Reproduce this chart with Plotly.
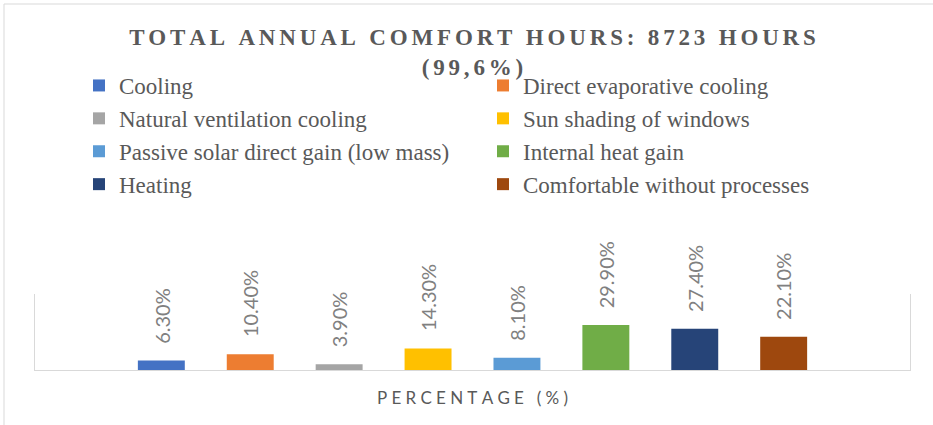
import plotly.graph_objects as go

# ---- data ----
categories = [
    "Cooling",
    "Direct evaporative cooling",
    "Natural ventilation cooling",
    "Sun shading of windows",
    "Passive solar direct gain (low mass)",
    "Internal heat gain",
    "Heating",
    "Comfortable without processes",
]
values = [6.3, 10.4, 3.9, 14.3, 8.1, 29.9, 27.4, 22.1]
colors = ["#4472C4", "#ED7D31", "#A5A5A5", "#FFC000",
          "#5B9BD5", "#70AD47", "#264478", "#9E480E"]
axis_label = "PERCENTAGE (%)"
title_lines = ["TOTAL ANNUAL COMFORT HOURS: 8723 HOURS", "(99,6%)"]

W, H = 933, 425
L, R, T, B = 35, 23, 294, 55
PW, PH = W - L - R, H - T - B


def spaced(s, sep):
    return sep.join(s)


fig = go.Figure()
for i, (name, v, c) in enumerate(zip(categories, values, colors)):
    fig.add_trace(go.Bar(x=[i], y=[v], name=name, marker_color=c,
                         marker_line_width=0, width=0.528))
    fig.add_annotation(x=i, y=v, text=f"{v:.2f}%", textangle=-90,
                       xanchor="center", yanchor="bottom", yshift=15,
                       showarrow=False,
                       font=dict(family="Lato", size=20, color="#808080"))

fig.update_layout(
    width=W, height=H,
    margin=dict(l=L, r=R, t=T, b=B, autoexpand=False),
    paper_bgcolor="white", plot_bgcolor="white",
    barmode="overlay",
    title=dict(text="<br>".join(spaced(t, "\u2006") for t in title_lines),
               x=0.5, xref="paper", xanchor="center",
               y=1 - 45 / H, yref="container", yanchor="top",
               font=dict(family="Liberation Serif", size=23, color="#595959",
                         weight="bold")),
    legend=dict(orientation="h", xref="container", yref="container",
                x=79 / W, xanchor="left",
                y=1 - 64 / H, yanchor="top",
                entrywidth=359, entrywidthmode="pixels",
                font=dict(family="Liberation Serif", size=23, color="#595959"),
                bgcolor="rgba(0,0,0,0)"),
    xaxis=dict(range=[-1.421, 8.421], showticklabels=False, ticks="",
               showgrid=False, zeroline=False, showline=True,
               linecolor="#d9d9d9", linewidth=1,
               title=dict(text=spaced(axis_label, "\u2005"), standoff=22,
                          font=dict(family="Lato", size=17, color="#595959"))),
    yaxis=dict(range=[0, 50.5], showticklabels=False, ticks="",
               showgrid=False, zeroline=False, showline=True, mirror=True,
               linecolor="#d9d9d9", linewidth=1),
    showlegend=True,
)

# outer chart border
fig.add_shape(type="rect", xref="paper", yref="paper",
              x0=(4 - L) / PW, x1=(W + 5 - L) / PW,
              y0=-(B + 5) / PH, y1=((H - B) - 4) / PH,
              line=dict(color="#d9d9d9", width=1), fillcolor="rgba(0,0,0,0)",
              layer="below")

fig.write_html("out.html", config={"displayModeBar": False},
               post_script="document.body.style.margin='0';"
                           "document.body.style.padding='0';")
